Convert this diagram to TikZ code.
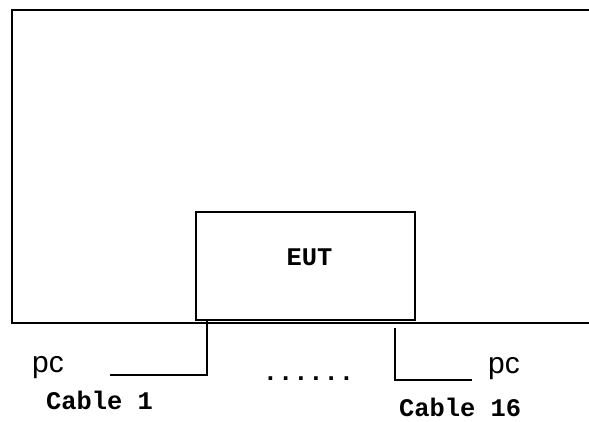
\documentclass[tikz,border=0pt]{standalone}
\usepackage{fontspec}
\setmainfont{Liberation Sans}
\newfontfamily\pixfont{Liberation Mono}
\usepackage{tikz}
\usetikzlibrary{positioning, calc}
\tikzstyle{eut}=[%
      rectangle, draw=black, line width=1.2bp, fill=none,
      minimum width=219bp, minimum height=108bp, inner sep=0pt
]
\tikzstyle{lbl}=[%
      inner sep=0pt, anchor=base west, font=\pixfont\bfseries\fontsize{25.5}{26}\selectfont
]
\tikzstyle{pc}=[%
      inner sep=0pt, anchor=base west, font=\fontsize{30}{32}\selectfont
]
\tikzstyle{wire}=[%
      draw=black, line width=1.2bp
]

\begin{document}
\begin{tikzpicture}[x=1bp, y=-1bp]
    \useasboundingbox (0,0) rectangle (589,421);
    % chamber
    \draw[wire] (589,10) -- (12,10) -- (12,323) -- (589,323);
    \node[eut] (eut) at (305.5,266) {};
    \node[lbl, anchor=base] (eutlbl) at (309.5,265) {EUT};

    % cables
    \coordinate (c1top) at (207,321);
    \coordinate (c1bend) at (207,375);
    \coordinate (c1end) at (110,375);
    \coordinate (c16top) at (395,328);
    \coordinate (c16bend) at (395,380);
    \coordinate (c16end) at (472,380);
    \draw[wire] (c1top) -- (c1bend) -- (c1end);
    \draw[wire] (c16top) -- (c16bend) -- (c16end);

    \node[pc] (pcleft) at (32,372) {pc};
    \node[pc] (pcright) at (488,373) {pc};
    \node[lbl] (cab1) at (46,409) {Cable 1};
    \node[lbl] (cab16) at (399,416) {Cable 16};
    \node[lbl, anchor=base] (dots) at (308.5,380) {......};
\end{tikzpicture}
\end{document}
